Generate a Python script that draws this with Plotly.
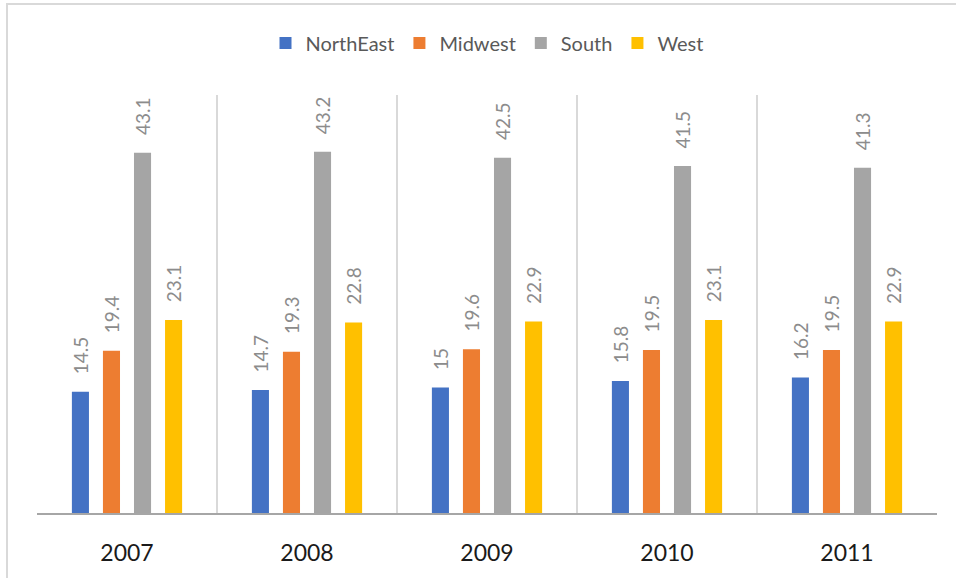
import plotly.graph_objects as go

years = ["2007", "2008", "2009", "2010", "2011"]
northeast = [14.5, 14.7, 15, 15.8, 16.2]
midwest = [19.4, 19.3, 19.6, 19.5, 19.5]
south = [43.1, 43.2, 42.5, 41.5, 41.3]
west = [23.1, 22.8, 22.9, 23.1, 22.9]

series = [
    ("NorthEast", northeast, "#4472C4"),
    ("Midwest", midwest, "#ED7D31"),
    ("South", south, "#A5A5A5"),
    ("West", west, "#FFC000"),
]

FONT = "Lato"
pad = "\u00a0\u00a0\u00a0"

fig = go.Figure()
for name, vals, color in series:
    fig.add_trace(go.Bar(
        name=name, x=years, y=vals,
        marker=dict(color=color, line=dict(width=0)),
        text=[pad + f"{v:g}" for v in vals],
        textposition="outside",
        textangle=-90,
        constraintext="none",
        cliponaxis=False,
        textfont=dict(family=FONT, size=19, color="#8c8c8c"),
    ))

W, H = 956, 578
L, R, T, B = 37, 19, 95, 65
pw, ph = W - L - R, H - T - B

fig.update_layout(
    width=W, height=H,
    margin=dict(l=L, r=R, t=T, b=B),
    paper_bgcolor="white", plot_bgcolor="white",
    barmode="group", bargap=0.31, bargroupgap=0.45,
    showlegend=True,
    legend=dict(
        orientation="h", x=0.5, xanchor="center",
        y=1 + (T - 43) / ph, yanchor="middle",
        font=dict(family=FONT, size=20, color="#595959"),
        itemclick=False, traceorder="normal",
    ),
    font=dict(family=FONT),
    xaxis=dict(
        type="category", tickson="boundaries", showgrid=True,
        gridcolor="#d9d9d9", gridwidth=2,
        showline=True, linecolor="#a6a6a6", linewidth=1.5,
        ticks="", ticklabelstandoff=19,
        tickfont=dict(family=FONT, size=23, color="#1a1a1a"),
        zeroline=False,
    ),
    yaxis=dict(range=[0, 50], visible=False, showgrid=False, zeroline=False),
    shapes=[dict(
        type="rect", xref="paper", yref="paper",
        x0=(7 - L) / pw, x1=(W + 10 - L) / pw,
        y0=-(H + 10 - (T + ph)) / ph, y1=1 + (T - 4) / ph,
        line=dict(color="#d9d9d9", width=2), fillcolor="rgba(0,0,0,0)",
        layer="below",
    )],
)

fig.write_html("out.html")
